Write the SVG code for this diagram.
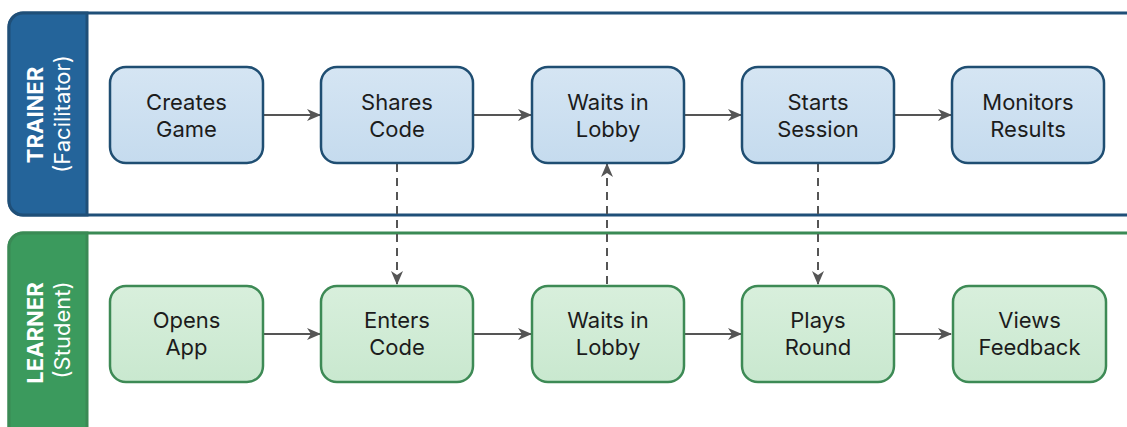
<svg xmlns="http://www.w3.org/2000/svg" width="1127" height="427" viewBox="0 0 1127 427">
  <defs>
    <linearGradient id="gBlue" x1="0" y1="0" x2="0" y2="1">
      <stop offset="0" stop-color="#d5e5f3"/>
      <stop offset="1" stop-color="#c5dbee"/>
    </linearGradient>
    <linearGradient id="gGreen" x1="0" y1="0" x2="0" y2="1">
      <stop offset="0" stop-color="#d8efdc"/>
      <stop offset="1" stop-color="#c9e8cf"/>
    </linearGradient>
    <marker id="arrow" viewBox="0 0 14 12" refX="13" refY="6" markerWidth="14" markerHeight="12" markerUnits="userSpaceOnUse" orient="auto">
      <path d="M0,0 L14,6 L0,12 L4,6 z" fill="#555"/>
    </marker>
    <style>
      .node-t rect { fill: url(#gBlue); stroke: #1f4e72; stroke-width: 2.5; }
      .node-l rect { fill: url(#gGreen); stroke: #3d8a55; stroke-width: 2.5; }
      .label { font-family: Inter, "Liberation Sans", sans-serif; font-size: 22px; fill: #1c1c1c; text-anchor: middle; }
      .lane-title { font-family: Inter, "Liberation Sans", sans-serif; font-size: 22px; font-weight: 700; fill: #ffffff; text-anchor: middle; }
      .lane-sub { font-family: Inter, "Liberation Sans", sans-serif; font-size: 22px; fill: #ffffff; text-anchor: middle; }
      .flow { stroke: #555; stroke-width: 2; fill: none; marker-end: url(#arrow); }
      .handoff { stroke: #555; stroke-width: 2; fill: none; stroke-dasharray: 8 6; marker-end: url(#arrow); }
    </style>
  </defs>

  <rect width="1127" height="427" fill="#ffffff"/>

  <!-- Trainer swimlane -->
  <g id="lane-trainer">
    <path d="M1140,13 H23 A14,14 0 0 0 9,27 V201 A14,14 0 0 0 23,215 H1140" fill="#ffffff" stroke="#1f4f78" stroke-width="3"/>
    <path d="M87,13 H23 A14,14 0 0 0 9,27 V201 A14,14 0 0 0 23,215 H87 Z" fill="#24649a" stroke="#1f4f78" stroke-width="3"/>
    <text class="lane-title" transform="translate(43,115) rotate(-90)">TRAINER</text>
    <text class="lane-sub" transform="translate(70,114) rotate(-90)">(Facilitator)</text>
  </g>

  <!-- Learner swimlane -->
  <g id="lane-learner">
    <path d="M1140,233 H23 A14,14 0 0 0 9,247 V450 H1140" fill="#ffffff" stroke="#3a8a55" stroke-width="3"/>
    <path d="M87,233 H23 A14,14 0 0 0 9,247 V450 H87 Z" fill="#3b9a5d" stroke="#3a8a55" stroke-width="3"/>
    <text class="lane-title" transform="translate(43,333) rotate(-90)">LEARNER</text>
    <text class="lane-sub" transform="translate(70,330) rotate(-90)">(Student)</text>
  </g>

  <!-- Connectors -->
  <g id="connectors">
    <line class="flow" x1="264" y1="115" x2="320" y2="115"/>
    <line class="flow" x1="474" y1="115" x2="531" y2="115"/>
    <line class="flow" x1="685" y1="115" x2="741" y2="115"/>
    <line class="flow" x1="895" y1="115" x2="951" y2="115"/>

    <line class="flow" x1="264" y1="334" x2="320" y2="334"/>
    <line class="flow" x1="474" y1="334" x2="531" y2="334"/>
    <line class="flow" x1="685" y1="334" x2="741" y2="334"/>
    <line class="flow" x1="895" y1="334" x2="951" y2="334"/>

    <line class="handoff" x1="397" y1="164" x2="397" y2="284"/>
    <line class="handoff" x1="607" y1="284" x2="607" y2="164"/>
    <line class="handoff" x1="818" y1="164" x2="818" y2="284"/>
  </g>

  <!-- Trainer steps -->
  <g id="t-create" class="node-t">
    <rect x="110" y="67" width="153" height="96" rx="16"/>
    <text class="label" x="186.5" y="110">Creates</text>
    <text class="label" x="186.5" y="137">Game</text>
  </g>
  <g id="t-share" class="node-t">
    <rect x="321" y="67" width="152" height="96" rx="16"/>
    <text class="label" x="397" y="110">Shares</text>
    <text class="label" x="397" y="137">Code</text>
  </g>
  <g id="t-lobby" class="node-t">
    <rect x="532" y="67" width="152" height="96" rx="16"/>
    <text class="label" x="608" y="110">Waits in</text>
    <text class="label" x="608" y="137">Lobby</text>
  </g>
  <g id="t-start" class="node-t">
    <rect x="742" y="67" width="152" height="96" rx="16"/>
    <text class="label" x="818" y="110">Starts</text>
    <text class="label" x="818" y="137">Session</text>
  </g>
  <g id="t-monitor" class="node-t">
    <rect x="952" y="67" width="152" height="96" rx="16"/>
    <text class="label" x="1028" y="110">Monitors</text>
    <text class="label" x="1028" y="137">Results</text>
  </g>

  <!-- Learner steps -->
  <g id="l-open" class="node-l">
    <rect x="110" y="286" width="153" height="96" rx="16"/>
    <text class="label" x="186.5" y="328">Opens</text>
    <text class="label" x="186.5" y="355">App</text>
  </g>
  <g id="l-enter" class="node-l">
    <rect x="321" y="286" width="152" height="96" rx="16"/>
    <text class="label" x="397" y="328">Enters</text>
    <text class="label" x="397" y="355">Code</text>
  </g>
  <g id="l-lobby" class="node-l">
    <rect x="532" y="286" width="152" height="96" rx="16"/>
    <text class="label" x="608" y="328">Waits in</text>
    <text class="label" x="608" y="355">Lobby</text>
  </g>
  <g id="l-play" class="node-l">
    <rect x="742" y="286" width="152" height="96" rx="16"/>
    <text class="label" x="818" y="328">Plays</text>
    <text class="label" x="818" y="355">Round</text>
  </g>
  <g id="l-feedback" class="node-l">
    <rect x="953" y="286" width="153" height="96" rx="16"/>
    <text class="label" x="1029.5" y="328">Views</text>
    <text class="label" x="1029.5" y="355">Feedback</text>
  </g>
</svg>
